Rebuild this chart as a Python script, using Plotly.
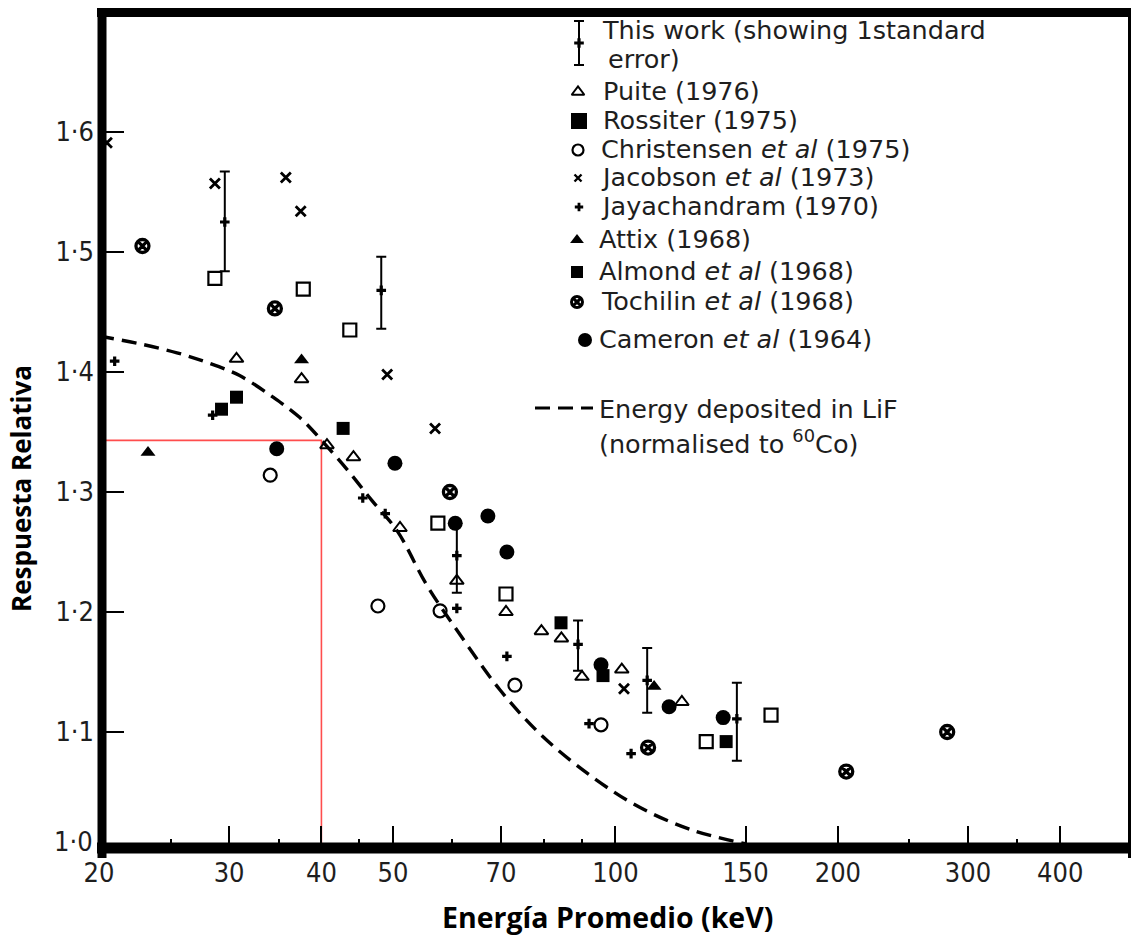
import math
import plotly.graph_objects as go

# ---------------- data ----------------
this_work_x = [29.6, 48.2, 61.0, 89.0, 110.4, 146.0]
this_work_y = [1.525, 1.468, 1.247, 1.173, 1.143, 1.111]
this_work_err_plus = [0.042, 0.028, 0.027, 0.020, 0.027, 0.030]
this_work_err_minus = [0.041, 0.032, 0.031, 0.022, 0.027, 0.035]

puite_x = [30.7, 37.6, 40.7, 44.2, 51.1, 61.0, 71.1, 79.4, 84.5, 90.1, 102.0, 123.0]
puite_y = [1.411, 1.394, 1.339, 1.329, 1.270, 1.226, 1.200, 1.184, 1.178, 1.146, 1.152, 1.125]

rossiter_x = [28.7, 37.8, 43.7, 57.5, 71.1, 132.7, 162.4]
rossiter_y = [1.478, 1.469, 1.435, 1.274, 1.215, 1.092, 1.114]

christensen_x = [34.1, 47.7, 57.9, 73.1, 95.6]
christensen_y = [1.314, 1.205, 1.201, 1.139, 1.106]

jacobson_x = [20.5, 28.7, 35.8, 37.5, 49.1, 57.0, 102.7]
jacobson_y = [1.591, 1.557, 1.562, 1.534, 1.398, 1.353, 1.136]

jaya_x = [21.0, 28.5, 45.5, 48.8, 61.0, 71.3, 92.1, 105.0]
jaya_y = [1.409, 1.364, 1.295, 1.282, 1.203, 1.163, 1.107, 1.082]

attix_x = [23.3, 37.6, 112.8]
attix_y = [1.333, 1.410, 1.138]

almond_x = [29.3, 30.7, 42.8, 84.4, 96.2, 141.2]
almond_y = [1.369, 1.379, 1.353, 1.191, 1.147, 1.092]

tochilin_x = [22.9, 34.6, 59.7, 110.7, 205.3, 281.2]
tochilin_y = [1.505, 1.453, 1.300, 1.087, 1.067, 1.100]

cameron_x = [34.8, 50.3, 60.7, 67.2, 71.3, 95.6, 118.2, 139.9]
cameron_y = [1.336, 1.324, 1.274, 1.280, 1.250, 1.156, 1.121, 1.112]

curve_x = [20.0, 22.9, 25.5, 28.0, 31.0, 34.4, 37.4, 40.3, 43.7, 46.8, 50.6,
           55.6, 61.0, 69.8, 79.8, 93.3, 108.0, 127.4, 149.8]
curve_y = [1.430, 1.423, 1.416, 1.408, 1.397, 1.379, 1.362, 1.341, 1.316, 1.293, 1.268,
           1.222, 1.185, 1.135, 1.096, 1.062, 1.037, 1.018, 1.007]

ref_x = [20.0, 40.0, 40.0]
ref_y = [1.343, 1.343, 1.0]

x_tick_vals = [20, 30, 40, 50, 70, 100, 150, 200, 300, 400]
x_tick_text = ["20", "30", "40", "50", "70", "100", "150", "200", "300", "400"]
x_minor_vals = [25, 35, 45, 60, 80, 90, 250, 350]
y_tick_vals = [1.1, 1.2, 1.3, 1.4, 1.5, 1.6]
y_tick_text = ["1·1", "1·2", "1·3", "1·4", "1·5", "1·6"]
y_origin_label = "1·0"

legend_labels = [
    "Puite (1976)",
    "Rossiter (1975)",
    "Christensen <i>et al</i> (1975)",
    "Jacobson <i>et al</i> (1973)",
    "Jayachandram (1970)",
    "Attix (1968)",
    "Almond <i>et al</i> (1968)",
    "Tochilin <i>et al</i> (1968)",
    "Cameron <i>et al</i> (1964)",
]

# ---------------- figure geometry ----------------
W, H = 1131, 938
L, R, T, B = 99, 1128, 12, 852
TXT = "#1e1e1e"
LEG_FONT = dict(family="DejaVu Sans, Liberation Sans, sans-serif", size=25.5, color=TXT)
TICK_FONT = dict(family="Liberation Sans Narrow, DejaVu Sans Condensed, Roboto Condensed, Liberation Sans, sans-serif",
                 size=27, color=TXT)

fig = go.Figure()

# energy deposited curve
fig.add_trace(go.Scatter(x=curve_x, y=curve_y, mode="lines", line_shape="spline",
                         line=dict(color="black", width=3.4, dash="15px,8px"),
                         hoverinfo="skip", showlegend=False))
# red reference lines
fig.add_trace(go.Scatter(x=ref_x, y=ref_y, mode="lines",
                         line=dict(color="#ff4d4d", width=1.6),
                         hoverinfo="skip", showlegend=False))

def pts(x, y, symbol, size, lw=2):
    mk = dict(symbol=symbol, size=size, color="black",
              line=dict(color="black", width=lw))
    fig.add_trace(go.Scatter(x=x, y=y, mode="markers", marker=mk, showlegend=False,
                             cliponaxis=False))

pts(puite_x, puite_y, "triangle-up-open", 12, lw=2)
pts(rossiter_x, rossiter_y, "square-open", 13, lw=2.2)
pts(christensen_x, christensen_y, "circle-open", 13, lw=2.2)
pts(jacobson_x, jacobson_y, "x-thin-open", 10, lw=2.8)
pts(jaya_x, jaya_y, "cross", 8, lw=0)
pts(attix_x, attix_y, "triangle-up", 13, lw=0)
pts(almond_x, almond_y, "square", 13, lw=0)
pts(tochilin_x, tochilin_y, "circle-x-open", 13, lw=3.3)
pts(cameron_x, cameron_y, "circle", 15, lw=0)

# this work with error bars
fig.add_trace(go.Scatter(
    x=this_work_x, y=this_work_y, mode="markers",
    marker=dict(symbol="cross", size=8, color="black", line=dict(width=0)),
    error_y=dict(type="data", symmetric=False, array=this_work_err_plus,
                 arrayminus=this_work_err_minus, color="black", thickness=2, width=5),
    showlegend=False))

# ---------------- hand-drawn legend (overlay axes in pixel units) ----------------
def leg(x, y, symbol, size, lw=2, color="black", lcolor="black"):
    fig.add_trace(go.Scatter(x=[x], y=[y], xaxis="x2", yaxis="y2", mode="markers",
                             marker=dict(symbol=symbol, size=size, color=color,
                                         line=dict(color=lcolor, width=lw)),
                             showlegend=False, hoverinfo="skip", cliponaxis=False))

fig.add_trace(go.Scatter(x=[579], y=[43], xaxis="x2", yaxis="y2", mode="markers",
                         marker=dict(symbol="cross", size=8, color="black", line=dict(width=0)),
                         error_y=dict(type="data", array=[22], color="black", thickness=2, width=5),
                         showlegend=False, hoverinfo="skip"))
leg_y = [92, 121, 150, 178, 207, 240, 272, 302, 340]
leg(578, leg_y[0], "triangle-up-open", 11, lw=2)
leg(579, leg_y[1], "square", 16, lw=0)
leg(581, leg_y[1] + 1, "square-open", 6, lw=1.6, lcolor="white")
leg(578, leg_y[2], "circle-open", 11, lw=2.2)
leg(578, leg_y[3], "x-thin-open", 7, lw=2.4)
leg(579, leg_y[4], "cross", 7, lw=0)
leg(577, leg_y[5], "triangle-up", 12, lw=0)
leg(577, leg_y[6], "square", 12, lw=0)
leg(577, leg_y[7], "circle-x-open", 11, lw=3.0)
leg(585, leg_y[8], "circle", 14, lw=0)
fig.add_trace(go.Scatter(x=[535, 593], y=[408, 408], xaxis="x2", yaxis="y2", mode="lines",
                         line=dict(color="black", width=3.2, dash="15px,8px"),
                         showlegend=False, hoverinfo="skip"))

annotations = []
def txt(x, y, s):
    annotations.append(dict(x=x, y=y, xref="x2", yref="y2", text=s, showarrow=False,
                            xanchor="left", yanchor="middle", font=LEG_FONT))

txt(600, 30, "This work (showing 1standard")
txt(606, 59, "error)")
text_x = [601, 601, 599, 599, 599, 597, 597, 599, 597]
for tx, ty, s in zip(text_x, leg_y, legend_labels):
    txt(tx, ty - 1, s)
txt(597, 409, "Energy deposited in LiF")
txt(597, 442, "(normalised to <sup>60</sup>Co)")


def px(xp):
    return (xp - L) / (R - L)

def py(yp):
    return (B - yp) / (B - T)

# the origin label of the y axis sits a little above the axis line, as in the reference
annotations.append(dict(x=px(95), y=py(841), xref="paper", yref="paper", text=y_origin_label,
                        showarrow=False, xanchor="right", yanchor="middle", font=TICK_FONT))

# axis titles
annotations.append(dict(x=px(607), y=py(917), xref="paper", yref="paper",
                        text="<b>Energía Promedio (keV)</b>", showarrow=False,
                        xanchor="center", yanchor="middle",
                        font=dict(family="Open Sans, Noto Sans, sans-serif", size=28.5, color="black")))
annotations.append(dict(x=px(21), y=py(489), xref="paper", yref="paper",
                        text="<b>Respuesta Relativa</b>", showarrow=False, textangle=-90,
                        xanchor="center", yanchor="middle",
                        font=dict(family="Open Sans, Noto Sans, sans-serif", size=26, color="black")))

# frame (thick lines like the reference)
shapes = [
    dict(type="line", xref="paper", yref="paper", x0=px(102), x1=px(102), y0=py(858), y1=py(8),
         line=dict(color="black", width=9), layer="above"),
    dict(type="line", xref="paper", yref="paper", x0=px(97), x1=px(1131), y0=py(12.5), y1=py(12.5),
         line=dict(color="black", width=9), layer="above"),
    dict(type="line", xref="paper", yref="paper", x0=px(97), x1=px(1131), y0=py(848), y1=py(848),
         line=dict(color="black", width=11), layer="above"),
    dict(type="line", xref="paper", yref="paper", x0=px(1129.5), x1=px(1129.5), y0=py(858), y1=py(8),
         line=dict(color="black", width=3), layer="above"),
]

fig.update_layout(
    width=W, height=H,
    margin=dict(l=L, r=W - R, t=T, b=H - B, pad=0),
    paper_bgcolor="white", plot_bgcolor="white",
    showlegend=False,
    xaxis=dict(type="log", range=[math.log10(20), math.log10(494)],
               showgrid=False, zeroline=False, showline=False,
               tickmode="array", tickvals=x_tick_vals, ticktext=x_tick_text,
               ticks="inside", ticklen=26, tickwidth=2.2, tickcolor="black",
               tickfont=TICK_FONT, ticklabelstandoff=2,
               minor=dict(tickmode="array", tickvals=x_minor_vals, ticks="inside",
                          ticklen=13, tickwidth=2.2, tickcolor="black", showgrid=False)),
    yaxis=dict(range=[1.0, 1.70], showgrid=False, zeroline=False, showline=False,
               tickmode="array", tickvals=y_tick_vals, ticktext=y_tick_text,
               ticks="inside", ticklen=25, tickwidth=2.2, tickcolor="black",
               tickfont=TICK_FONT, ticklabelstandoff=4),
    xaxis2=dict(overlaying="x", anchor="y2", range=[L, R], visible=False, fixedrange=True),
    yaxis2=dict(overlaying="y", anchor="x2", range=[B, T], visible=False, fixedrange=True),
    annotations=annotations,
    shapes=shapes,
)

fig.write_html("out.html", config={"displayModeBar": False},
               post_script="document.body.style.margin='0px';document.body.style.overflow='hidden';")
